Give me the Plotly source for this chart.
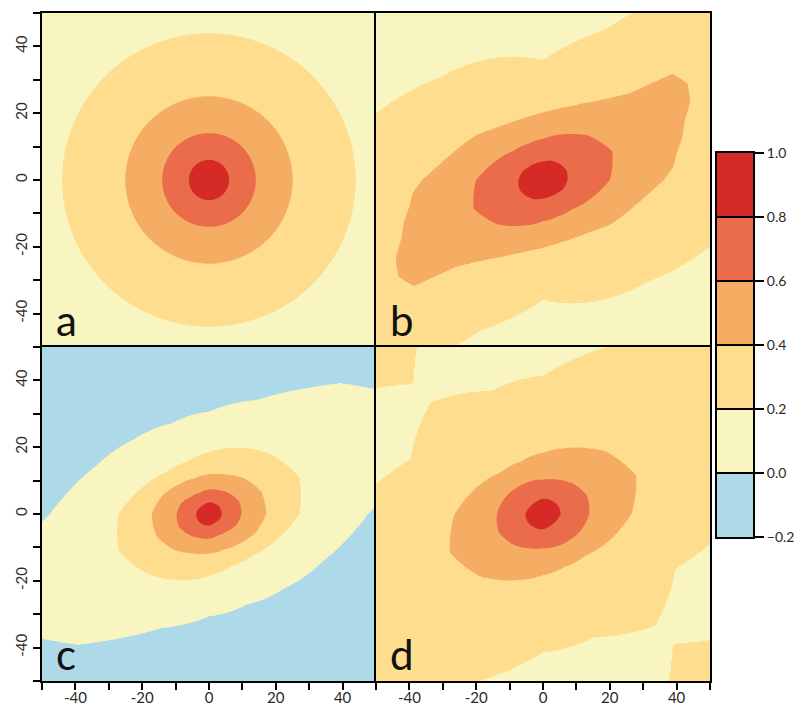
import numpy as np
import plotly.graph_objects as go

# ---------------- data ----------------
# contour levels and colours of the bands (-0.2..0, 0..0.2, ..., 0.8..1.0)
levels = [-0.2, 0.0, 0.2, 0.4, 0.6, 0.8, 1.0]
level_labels = ["\u22120.2", "0.0", "0.2", "0.4", "0.6", "0.8", "1.0"]
band_colors = ["#ADD9E8", "#F9F5C1", "#FEDD8F", "#F5AD63", "#EB6C4A", "#D52A26"]

# axis ticks
tick_vals = [-50, -40, -30, -20, -10, 0, 10, 20, 30, 40, 50]
tick_text = ["", "-40", "", "-20", "", "0", "", "20", "", "40", ""]

panel_letters = ["a", "b", "c", "d"]

# For every panel: the level of each contour and the distance of that
# contour from the centre, read in directions spread evenly over 0..180 deg
# (the other half mirrors them).
a_levels = [0.8, 0.6, 0.4, 0.2]
a_r08 = [6]
a_r06 = [14]
a_r04 = [25]
a_r02 = [44]

b_levels = [0.8, 0.6, 0.4, 0.2]
b_r08 = [7.3, 7.6, 6.9, 6.25, 5.5, 5.4, 5.7, 6.65]
b_r06 = [20, 22.45, 18.9, 14.75, 12.3, 11.7, 12.35, 15.1]
b_r04 = [36.1, 39.1, 40.7, 43.4, 45.8, 49.9, 52, 50, 36.5, 31.6, 28.3, 26,
         24, 22.7, 21.6, 20.8, 20.25, 19.75, 19.45, 19.35, 19.4, 19.65, 20,
         20.6, 21.5, 22.6, 24, 25.2, 26.5, 28.1, 30.1, 32.7]
b_r02 = [90, 150, 110, 49, 36, 39.5, 43.5, 53.5]

c_levels = [0.8, 0.6, 0.4, 0.2, 0.0]
c_r08 = [3.8, 3.8, 3.7, 3.5, 3.5, 3.2, 3.2, 3.6]
c_r06 = [9.7, 9.8, 8.65, 7.7, 7.35, 6.95, 7.4, 8.8]
c_r04 = [17.1, 17, 15, 12.7, 11.8, 11.5, 12.6, 14.9]
c_r02 = [27, 29.1, 25.5, 21.4, 18.5, 16.9, 17.8, 21.3]
c_r00 = [47.7, 80, 55.5, 37, 30.7, 29.4, 31.7, 37]

d_levels = [0.8, 0.6, 0.4, 0.2]
d_r08 = [5.25, 5.2, 4.9, 4.65, 4.55, 4.2, 4.2, 4.55]
d_r06 = [13.8, 14.3, 12.8, 11.05, 10.25, 10.45, 11.1, 12.4]
d_r04 = [26.4, 30.1, 26.45, 21.35, 18.25, 17, 17.65, 21.2]
d_r02 = [60, 80, 80, 55, 41.5, 40, 47.5, 43]
# distance beyond which panel d rises above 0.2 again (its two corners)
d_r02_back = [200, 200, 200, 200, 200, 200, 200, 200, 200, 200, 200, 66,
              55, 66, 200, 200]

panels = [
    (a_levels, [a_r08, a_r06, a_r04, a_r02], None),
    (b_levels, [b_r08, b_r06, b_r04, b_r02], None),
    (c_levels, [c_r08, c_r06, c_r04, c_r02, c_r00], None),
    (d_levels, [d_r08, d_r06, d_r04, d_r02], d_r02_back),
]

# ---------------- field built from the read contour radii ----------------
grid = np.linspace(-50, 50, 251)
X, Y = np.meshgrid(grid, grid)
RR = np.hypot(X, Y)
PHI = np.degrees(np.arctan2(Y, X)) % 180.0


def radius_at(rlist):
    r = np.asarray(rlist, dtype=float)
    if r.size == 1:
        return np.full_like(RR, r[0])
    ang = np.linspace(0, 180, r.size, endpoint=False)
    ang_ext = np.concatenate([ang, [180.0]])
    inv = np.concatenate([1.0 / r, [1.0 / r[0]]])
    return 1.0 / np.interp(PHI, ang_ext, inv)


def build_field(lvls, radii, back=None):
    node_r = [np.zeros_like(RR)] + [radius_at(rl) for rl in radii]
    node_v = [0.98] + list(lvls)
    z = np.empty_like(RR)
    for j in range(len(node_r) - 1):
        r0, r1 = node_r[j], node_r[j + 1]
        m = (RR >= r0) & (RR < r1)
        t = (RR - r0) / (r1 - r0)
        z[m] = (node_v[j] + (node_v[j + 1] - node_v[j]) * t)[m]
    rout = node_r[-1]
    m = RR >= rout
    z[m] = (node_v[-1] - 0.19 * (1 - np.exp(-(RR - rout) / 5.0)))[m]
    if back is not None:
        rb = radius_at(back)
        mb = RR >= rb
        z[mb] = node_v[-1] + 0.05
    return z


# ---------------- layout geometry (pixels) ----------------
W, H = 801, 706
ML, MR, MT, MB = 42, 10, 13, 25
PW, PH = W - ML - MR, H - MT - MB
cb_left_px, cb_right_px, cb_top_px, cb_bot_px = 717, 753, 153, 537


def fx(px):
    return (px - ML) / PW


def fy(py):
    return (H - MB - py) / PH


xdom = [[fx(42), fx(376)], [fx(376), fx(710)]]
ydom = [[fy(681), fy(347)], [fy(347), fy(13)]]

fig = go.Figure()

axis_ids = ["", "2", "3", "4"]
panel_pos = [(0, 1), (1, 1), (0, 0), (1, 0)]  # (col, row-from-bottom)

for k, ((lv, radii, back), aid) in enumerate(zip(panels, axis_ids)):
    z = build_field(lv, radii, back)
    zmin_field, zmax_field = float(z.min()), float(z.max())
    for i, L in enumerate(levels[:-1]):
        if zmax_field < L:
            continue
        if levels[i + 1] <= zmin_field:
            continue  # band lies completely below the field
        # shaded (infeasible) region of a "<" constraint is z >= L
        fig.add_trace(go.Contour(
            x=grid, y=grid, z=z,
            contours=dict(type="constraint", operation="<", value=L),
            fillcolor=band_colors[i],
            line=dict(width=0, color=band_colors[i]),
            showscale=False, hoverinfo="skip",
            xaxis="x" + aid, yaxis="y" + aid,
        ))

# colour bar drawn as a heatmap of the band centres
band_mid = [(levels[i] + levels[i + 1]) / 2 for i in range(len(band_colors))]
cscale = []
nb = len(band_colors)
for i, col in enumerate(band_colors):
    cscale.append([i / nb, col])
    cscale.append([(i + 1) / nb, col])
fig.add_trace(go.Heatmap(
    x=[0], y=band_mid, z=[[m] for m in band_mid],
    zmin=levels[0], zmax=levels[-1], colorscale=cscale, showscale=False,
    hoverinfo="skip", xaxis="x5", yaxis="y5",
))

tick_font = dict(family="Lato", size=15, color="#2a2a2a")
layout = dict(width=W, height=H, margin=dict(l=ML, r=MR, t=MT, b=MB),
              paper_bgcolor="white", plot_bgcolor="white", showlegend=False)

for k, aid in enumerate(axis_ids):
    col, row = panel_pos[k]
    show_x = row == 0
    show_y = col == 0
    common = dict(range=[-50, 50], showgrid=False, zeroline=False,
                  showline=True, linecolor="black", linewidth=2, mirror=True,
                  tickmode="array", tickvals=tick_vals, ticktext=tick_text,
                  tickfont=tick_font, ticklen=7, tickwidth=2,
                  tickcolor="black", automargin=False)
    layout["xaxis" + aid] = dict(common, domain=xdom[col], anchor="y" + aid,
                                 ticks="outside" if show_x else "",
                                 showticklabels=show_x, ticklabelstandoff=-5)
    layout["yaxis" + aid] = dict(common, domain=ydom[row], anchor="x" + aid,
                                 ticks="outside" if show_y else "",
                                 showticklabels=show_y, tickangle=-90)

layout["xaxis5"] = dict(domain=[fx(cb_left_px), fx(cb_right_px)], anchor="y5",
                        range=[-0.5, 0.5], showgrid=False, zeroline=False,
                        showticklabels=False, ticks="", showline=True,
                        linecolor="black", linewidth=2, mirror=True,
                        automargin=False)
layout["yaxis5"] = dict(domain=[fy(cb_bot_px), fy(cb_top_px)], anchor="x5",
                        range=[levels[0], levels[-1]], side="right",
                        showgrid=False, zeroline=False, showline=True,
                        linecolor="black", linewidth=2, mirror=True,
                        tickmode="array", tickvals=levels,
                        ticktext=level_labels, ticks="outside", ticklen=9,
                        tickwidth=2, tickcolor="black",
                        tickfont=dict(family="Lato", size=14, color="#2a2a2a"),
                        automargin=False)
fig.update_layout(**layout)

# separator lines inside the colour bar
for lv in levels[1:-1]:
    fig.add_shape(type="line", xref="x5 domain", yref="y5",
                  x0=0, x1=1, y0=lv, y1=lv,
                  line=dict(color="black", width=2))

# panel letters
for letter, aid in zip(panel_letters, axis_ids):
    fig.add_annotation(text=letter, x=-46.3, y=-50, xref="x" + aid,
                       yref="y" + aid, xanchor="left", yanchor="bottom",
                       showarrow=False,
                       font=dict(family="Lato", size=42, color="#111111"))

# the page body gets no default margin so the figure sits at the window corner
fig.write_html("out.html", config={"displayModeBar": False},
               post_script="document.body.style.margin='0px';")
